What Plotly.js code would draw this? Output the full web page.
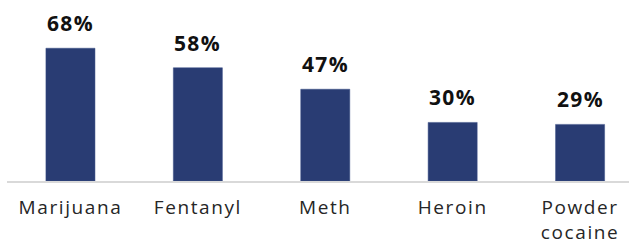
<!DOCTYPE html>
<html>
<head>
<meta charset="utf-8">
<script src="https://cdn.plot.ly/plotly-3.0.1.min.js"></script>
<style>
html,body{margin:0;padding:0;background:#fff;}
#chart{width:629px;height:243px;}
#chart .xtick text{letter-spacing:1.6px;}
#chart .annotation-text{letter-spacing:1.4px;}
</style>
</head>
<body>
<div id="chart"></div>
<script>
const categories = ["Marijuana", "Fentanyl", "Meth", "Heroin", "Powder<br>cocaine"];
const values = [68, 58, 47, 30, 29];
const valueLabels = ["68%", "58%", "47%", "30%", "29%"];

const FONT = "'Open Sans', sans-serif";

const trace = {
  type: "bar",
  x: categories,
  y: values,
  width: 0.385,
  marker: {color: "#293c73", line: {color: "#3b4f86", width: 0.5}},
  hoverinfo: "none"
};

const annotations = categories.map((c, i) => ({
  x: c, y: values[i], xref: "x", yref: "y",
  text: "<b>" + valueLabels[i] + "</b>",
  showarrow: false, yanchor: "bottom", yshift: 9,
  font: {family: FONT, size: 21, color: "#111111"}
}));

const layout = {
  width: 629, height: 243,
  margin: {l: 7, r: 0, t: 0, b: 62},
  paper_bgcolor: "#ffffff", plot_bgcolor: "#ffffff",
  showlegend: false,
  xaxis: {
    type: "category",
    range: [-0.498, 4.384],
    showline: true, linecolor: "#d9d9d9", linewidth: 2,
    showgrid: false, zeroline: false, ticks: "",
    ticklabelstandoff: 8,
    tickfont: {family: FONT, size: 19, color: "#262626"},
    fixedrange: true
  },
  yaxis: {
    range: [0, 92.7],
    visible: false, showgrid: false, zeroline: false,
    fixedrange: true
  },
  annotations: annotations
};

Plotly.newPlot("chart", [trace], layout, {displayModeBar: false, staticPlot: true});
</script>
</body>
</html>
